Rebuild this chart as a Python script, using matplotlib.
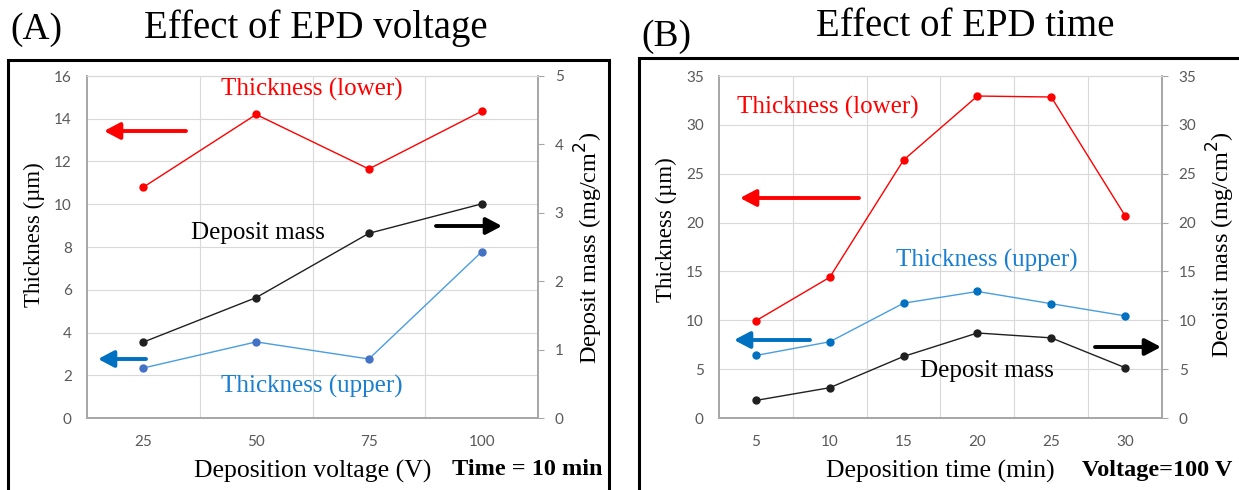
import numpy as np
import matplotlib
matplotlib.use("Agg")
import matplotlib.pyplot as plt
from matplotlib.patches import Rectangle

# panel A - effect of EPD voltage (time = 10 min)
voltage = ['25', '50', '75', '100']
thick_lower_a = [10.8, 14.2, 11.65, 14.35]
thick_upper_a = [2.34, 3.56, 2.76, 7.77]
mass_a = [1.11, 1.76, 2.70, 3.13]

# panel B - effect of EPD time (voltage = 100 V)
time_min = ['5', '10', '15', '20', '25', '30']
thick_lower_b = [9.95, 14.4, 26.4, 32.95, 32.85, 20.7]
thick_upper_b = [6.4, 7.8, 11.75, 12.95, 11.7, 10.45]
mass_b = [1.8, 3.1, 6.3, 8.7, 8.2, 5.15]

W, H = 1239, 490
fig = plt.figure(figsize=(W/100, H/100), dpi=100)

def fx(x):
    return x/W

def fy(y):
    return 1-y/H

RED = '#ff0000'
BLUE_LINE = '#4a9ee0'
BLUE_TXT = '#1b7fd0'
BLACK = '#202020'
GRID = '#d9d9d9'
SPINE = '#a6a6a6'
TICKC = '#595959'
serif = 'Liberation Serif'
tickfont = 'Lato'

def setup(ax, ax2, cats, lmax, lstep, rmax, rstep):
    n = len(cats)
    ax.set_xlim(-0.5, n-0.5)
    ax.set_ylim(0, lmax)
    ax2.set_ylim(0, rmax)
    ax.set_xticks(np.arange(n))
    ax.set_xticklabels(cats)
    ax.set_xticks(np.arange(n-1)+0.5, minor=True)
    ax.set_yticks(np.arange(0, lmax+0.01, lstep))
    ax2.set_yticks(np.arange(0, rmax+0.01, rstep))
    ax.grid(True, which='minor', axis='x', color=GRID, lw=0.8)
    ax.grid(True, which='major', axis='y', color=GRID, lw=0.8)
    ax.set_axisbelow(True)
    ax.tick_params(which='both', length=0)
    ax.tick_params(axis='y', pad=11, labelsize=11, labelcolor=TICKC)
    ax.tick_params(axis='x', pad=12, labelsize=11, labelcolor=TICKC)
    ax2.tick_params(axis='y', length=4, color=SPINE, pad=8, labelsize=11, labelcolor=TICKC)
    for a in (ax, ax2):
        for s in ['left', 'bottom', 'right']:
            a.spines[s].set_color(SPINE)
            a.spines[s].set_linewidth(1.2)
        a.spines['top'].set_color(GRID)
        for lab in a.get_xticklabels() + a.get_yticklabels():
            lab.set_family(tickfont)

def arrow(x0, x1, y, color):
    fig.add_artist(matplotlib.patches.FancyArrowPatch(
        (fx(x0), fy(y)), (fx(x1), fy(y)), transform=fig.transFigure,
        arrowstyle='-|>,head_length=0.95,head_width=0.5', mutation_scale=10,
        lw=2.8, color=color, shrinkA=0, shrinkB=0))

# ---- panel A ----
axA = fig.add_axes([fx(87), fy(418), (538-87)/W, (418-76)/H])
axA2 = axA.twinx()
setup(axA, axA2, voltage, 16, 2, 5, 1)
xa = np.arange(len(voltage))
axA.plot(xa, thick_lower_a, color=RED, lw=1.0, marker='o', ms=5, zorder=3)
axA.plot(xa, thick_upper_a, color=BLUE_LINE, lw=1.0, marker='o', ms=5, mfc='#4472c4', mec='#4472c4', zorder=3)
axA2.plot(xa, mass_a, color=BLACK, lw=1.0, marker='o', ms=5, zorder=3)
axA.set_xlabel('Deposition voltage (V)', family=serif, fontsize=18.5, labelpad=8)
axA.set_ylabel('Thickness (\u00b5m)', family=serif, fontsize=16.5)
axA.yaxis.set_label_coords(-0.093, 0.535)
axA2.set_ylabel('Deposit mass (mg/cm$^2$)', family=serif, fontsize=17.5)
axA2.yaxis.set_label_coords(1.078, 0.497)

fig.text(fx(312), fy(89), 'Thickness (lower)', color=RED, family=serif, fontsize=18, ha='center', va='center')
fig.text(fx(258), fy(233), 'Deposit mass', color='black', family=serif, fontsize=18, ha='center', va='center')
fig.text(fx(312), fy(386), 'Thickness (upper)', color=BLUE_TXT, family=serif, fontsize=18, ha='center', va='center')
arrow(186, 104, 131, RED)
arrow(436, 502, 226, 'black')
arrow(146, 98, 359, '#0070c0')
fig.text(fx(527), fy(469), 'Time = 10 min', family=serif, fontsize=17.5, weight='bold', ha='center', va='center')
fig.text(fx(36), fy(30), '(A)', family=serif, fontsize=27, ha='center', va='center')
fig.text(fx(316), fy(28), 'Effect of EPD voltage', family=serif, fontsize=28, ha='center', va='center')
fig.add_artist(Rectangle((fx(8), fy(495)), (609-8)/W, (495-60)/H, transform=fig.transFigure,
                         fill=False, lw=2.2, ec='black'))

# ---- panel B ----
axB = fig.add_axes([fx(719), fy(418), (1162-719)/W, (418-76)/H])
axB2 = axB.twinx()
setup(axB, axB2, time_min, 35, 5, 35, 5)
xb = np.arange(len(time_min))
axB.plot(xb, thick_lower_b, color=RED, lw=1.0, marker='o', ms=5, zorder=3)
axB.plot(xb, thick_upper_b, color=BLUE_LINE, lw=1.0, marker='o', ms=5, mfc='#0070c0', mec='#0070c0', zorder=3)
axB2.plot(xb, mass_b, color=BLACK, lw=1.0, marker='o', ms=5, zorder=3)
axB.set_xlabel('Deposition time (min)', family=serif, fontsize=18.5, labelpad=8)
axB.set_ylabel('Thickness (\u00b5m)', family=serif, fontsize=16.5)
axB.yaxis.set_label_coords(-0.095, 0.55)
axB2.set_ylabel('Deoisit mass (mg/cm$^2$)', family=serif, fontsize=17.5)
axB2.yaxis.set_label_coords(1.097, 0.506)

fig.text(fx(828), fy(107), 'Thickness (lower)', color=RED, family=serif, fontsize=18, ha='center', va='center')
fig.text(fx(987), fy(260), 'Thickness (upper)', color=BLUE_TXT, family=serif, fontsize=18, ha='center', va='center')
fig.text(fx(987), fy(371), 'Deposit mass', color='black', family=serif, fontsize=18, ha='center', va='center')
arrow(859, 740, 198, RED)
arrow(810, 734, 340, '#0070c0')
arrow(1095, 1161, 347, 'black')
fig.text(fx(1157), fy(470), 'Voltage=100 V', family=serif, fontsize=17.5, weight='bold', ha='center', va='center')
fig.text(fx(666), fy(37), '(B)', family=serif, fontsize=27, ha='center', va='center')
fig.text(fx(965), fy(26), 'Effect of EPD time', family=serif, fontsize=28, ha='center', va='center')
fig.add_artist(Rectangle((fx(639), fy(495)), (1250-639)/W, (495-58)/H, transform=fig.transFigure,
                         fill=False, lw=2.2, ec='black'))

fig.savefig('out.png', dpi=100)
